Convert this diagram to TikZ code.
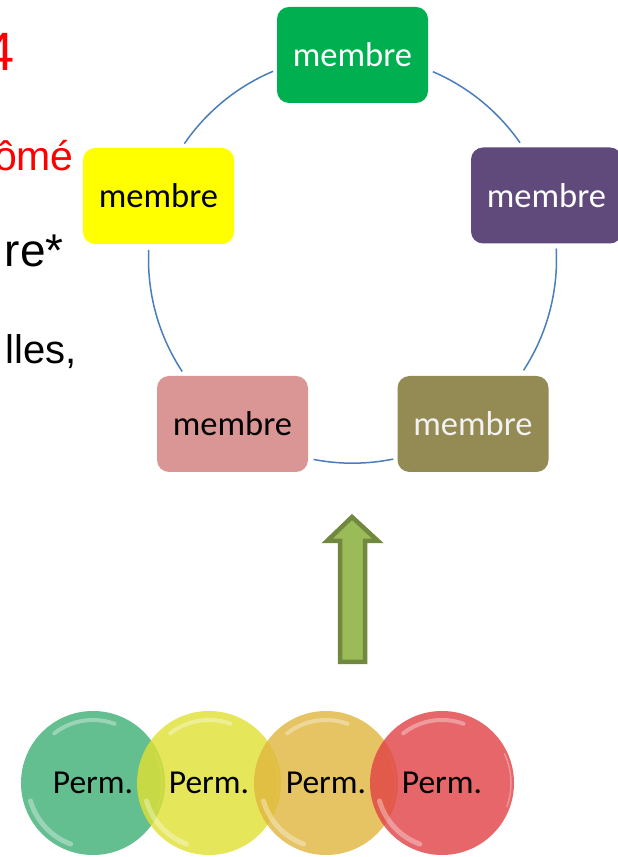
\documentclass[tikz,border=0pt]{standalone}
\usepackage{fontspec}
\setmainfont{Liberation Sans}
\newfontfamily\calfont{Carlito}
\definecolor{mgreen}{HTML}{00B050}
\definecolor{mpurple}{HTML}{604A7B}
\definecolor{molive}{HTML}{948A54}
\definecolor{mpink}{HTML}{D99694}
\definecolor{myellow}{HTML}{FFFF00}
\definecolor{arcblue}{HTML}{4A7EBB}
\definecolor{arrfill}{HTML}{9BBB59}
\definecolor{arrline}{HTML}{71893F}
\definecolor{cgreen}{RGB}{61,174,117}
\definecolor{cyellow}{RGB}{224,224,50}
\definecolor{corange}{RGB}{224,182,60}
\definecolor{cred}{RGB}{224,64,68}
\tikzset{
  membox/.style={rounded corners=12pt, minimum width=151pt, minimum height=96pt, inner sep=0pt,
    font=\calfont\fontsize{34.5}{40}\selectfont},
  ring/.style={draw=arcblue, line width=1.5pt},
  perm/.style={circle, minimum size=144pt, inner sep=0pt, fill opacity=0.8, text opacity=1},
  gloss/.style={white, opacity=0.35, line cap=round},
  sidetext/.style={anchor=base east, inner sep=0pt}
}
\begin{document}
\begin{tikzpicture}[x=1pt,y=1pt]
\clip (0,0) rectangle (618,857);
\fill[white] (0,0) rectangle (618,857);
% left cut-off text
\node[sidetext, text=red, font=\fontsize{54}{60}\selectfont] (t1) at (15,786) {4};
\node[sidetext, text=red, font=\fontsize{41}{46}\selectfont] (t2) at (74,686) {ômé};
\node[sidetext, font=\fontsize{46}{52}\selectfont] (t3) at (64,590) {re*};
\node[sidetext, font=\fontsize{40}{46}\selectfont] (t4) at (77,493) {lles,};
% ring
\coordinate (ctr) at (352.5,597.8);
\draw[ring] ([shift={(66.8:204)}]ctr) arc[start angle=66.8, end angle=34.8, radius=204];
\draw[ring] ([shift={(3:204)}]ctr) arc[start angle=3, end angle=-33, radius=204];
\draw[ring] ([shift={(-78.5:204)}]ctr) arc[start angle=-78.5, end angle=-101, radius=204];
\draw[ring] ([shift={(213.4:204)}]ctr) arc[start angle=213.4, end angle=177.4, radius=204];
\draw[ring] ([shift={(145.5:204)}]ctr) arc[start angle=145.5, end angle=112.9, radius=204];
% members
\node[membox, fill=mgreen, text=white] (m1) at (352.5,802) {membre};
\node[membox, fill=mpurple, text=white] (m2) at (546.5,661.5) {membre};
\node[membox, fill=molive, text=white!95!black] (m3) at (473,433) {membre};
\node[membox, fill=mpink, text=black] (m4) at (232.5,433) {membre};
\node[membox, fill=myellow, text=black] (m5) at (158.5,661) {membre};
% arrow
\draw[fill=arrfill, draw=arrline, line width=4.5pt, line join=miter]
  (352,340) -- (327,316) -- (340,316) -- (340,195) -- (365,195) -- (365,316) -- (378,316) -- cycle;
% perm circles
\foreach \cx/\col/\nm in {93/cgreen/p1, 209/cyellow/p2, 326/corange/p3, 442/cred/p4}{
  \node[perm, fill=\col] (\nm) at (\cx,74) {};
  \draw[gloss, line width=4pt] ([shift={(70:63)}]\nm.center) arc[start angle=70, end angle=128, radius=63];
  \draw[gloss, line width=5pt] ([shift={(196:65)}]\nm.center) arc[start angle=196, end angle=250, radius=65];
  \draw[gloss, line width=1.5pt, opacity=0.3] ([shift={(-20:69)}]\nm.center) arc[start angle=-20, end angle=25, radius=69];
}
\foreach \nm in {p1,p2,p3,p4}{
  \node[font=\calfont\fontsize{33.5}{38}\selectfont, text=black] at (\nm.center) {Perm.};
}
\end{tikzpicture}
\end{document}
